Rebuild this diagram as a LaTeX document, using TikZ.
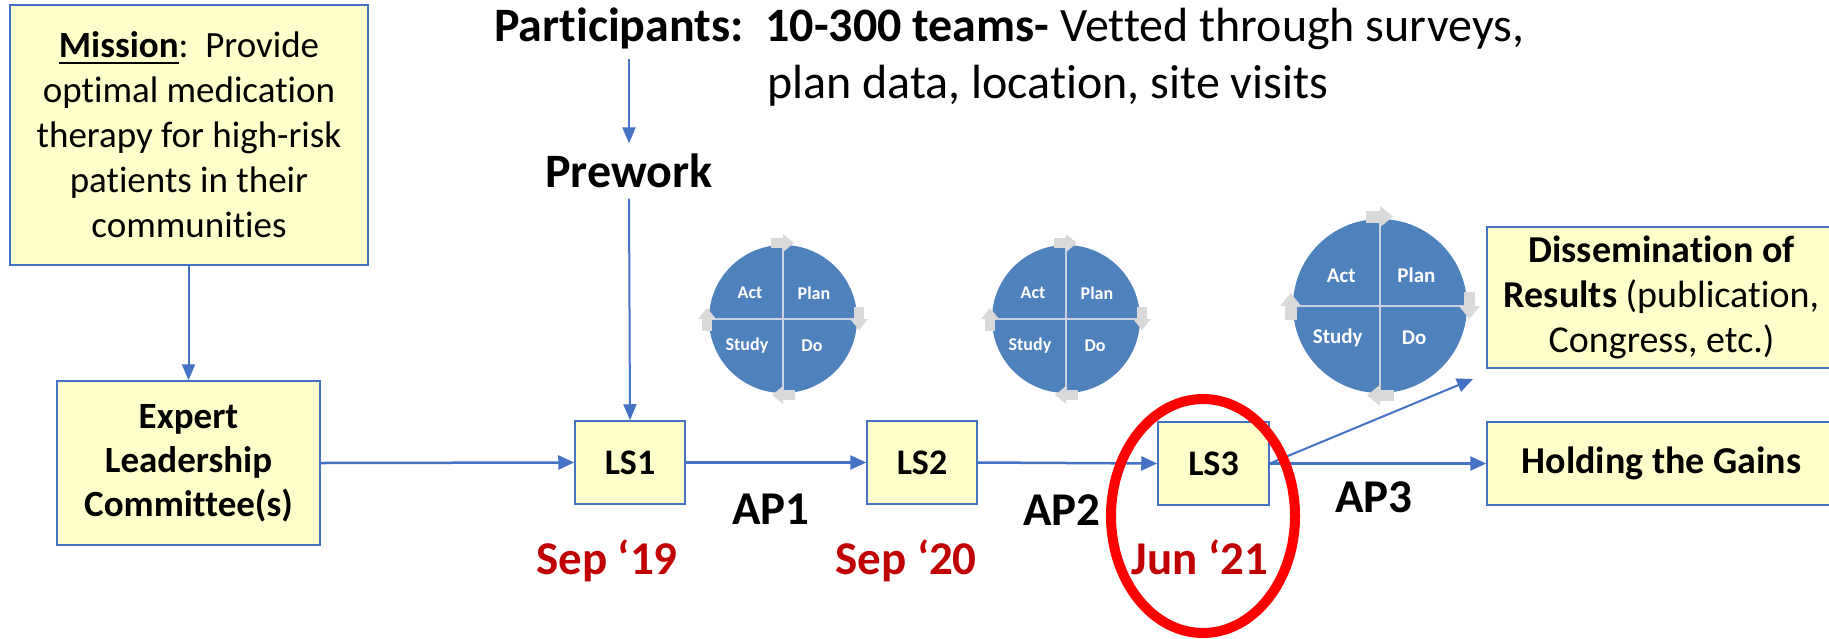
\documentclass[tikz,border=0pt]{standalone}
\usepackage{fontspec}
\setmainfont{Carlito}[Ligatures=NoCommon]
\usetikzlibrary{arrows.meta}

\definecolor{boxfill}{HTML}{FFFFCC}
\definecolor{boxline}{HTML}{4472C4}
\definecolor{linkblue}{HTML}{4472C4}
\definecolor{pdcablue}{HTML}{4F81BD}
\definecolor{pdcagrey}{HTML}{D9D9D9}
\definecolor{pdcarule}{HTML}{C9D1DE}
\definecolor{datered}{HTML}{C00000}
\definecolor{ringred}{HTML}{FF0000}

% underline with a rule that suits the large type
\newsavebox{\ulbox}
\newcommand{\thickul}[1]{\sbox{\ulbox}{#1}\rlap{\rule[-6pt]{\wd\ulbox}{2.2pt}}\usebox{\ulbox}}

% one PDCA cycle: #1 prefix, #2 x, #3 y, #4 scale, #5 label size
\newcommand{\pdcacycle}[5]{%
  \begin{scope}[shift={(#2,#3)}, scale=#4]
    \fill[pdcablue] (0,0) circle[radius=74];
    \draw[pdcarule, line width=2.5pt] (0,-74) -- (0,74);
    \draw[pdcarule, line width=2.5pt] (-74,0) -- (74,0);
    \foreach \ang/\px/\py in {0/0/-76, -90/76/0, 180/0/76, 90/-76/0}{
      \begin{scope}[shift={(\px,\py)}, rotate=\ang]
        \fill[pdcagrey] (-12,-5) rectangle (0,5);
        \fill[pdcagrey] (0,-9) -- (11,0) -- (0,9) -- cycle;
      \end{scope}
    }
    \node[pdcatext, font=\fontsize{#5}{#5}\selectfont\bfseries] (#1act)   at (-33,-26) {Act};
    \node[pdcatext, font=\fontsize{#5}{#5}\selectfont\bfseries] (#1plan)  at (31,-26)  {Plan};
    \node[pdcatext, font=\fontsize{#5}{#5}\selectfont\bfseries] (#1study) at (-36,27)  {Study};
    \node[pdcatext, font=\fontsize{#5}{#5}\selectfont\bfseries] (#1do)    at (29,27)   {Do};
  \end{scope}
}

\begin{document}
\begin{tikzpicture}[x=1pt, y=-1pt,
  box/.style={draw=boxline, fill=boxfill, line width=1.5pt, inner sep=0pt,
    align=center, text=black},
  conn/.style={draw=linkblue, line width=2.5pt,
    -{Triangle[length=16pt,width=14pt]}},
  thinconn/.style={draw=linkblue, line width=2pt,
    -{Triangle[length=16pt,width=13pt]}},
  pdcatext/.style={text=white, inner sep=0pt},
  biglabel/.style={font=\fontsize{47}{56}\selectfont\bfseries, inner sep=0pt,
    anchor=base},
  datelabel/.style={biglabel, text=datered},
]
\useasboundingbox (0,0) rectangle (1829,638);

% header text
\node[anchor=base west, inner sep=0pt, font=\fontsize{48}{57}\selectfont] (part1)
  at (494,41) {\textbf{Participants:~~10-300 teams-} Vetted through surveys,};
\node[anchor=base west, inner sep=0pt, font=\fontsize{48}{57}\selectfont] (part2)
  at (767,98) {plan data, location, site visits};
\node[inner sep=0pt, minimum height=55pt, font=\fontsize{48}{57}\selectfont\bfseries]
  (prework) at (629,171) {Prework};

% boxes
\node[box, minimum width=358pt, minimum height=260pt,
  font=\fontsize{37}{45}\selectfont] (mission) at (189,135)
  {\thickul{\textbf{Mission}}:~~Provide\\optimal medication\\therapy for high-risk\\patients in their\\communities};
\node[box, minimum width=263pt, minimum height=164pt,
  font=\fontsize{37}{44}\selectfont\bfseries] (expert) at (188.5,463)
  {Expert\\Leadership\\Committee(s)};
\node[box, minimum width=110pt, minimum height=83pt,
  font=\fontsize{36}{44}\selectfont\bfseries] (ls1) at (630,462.5) {LS1};
\node[box, minimum width=110pt, minimum height=83pt,
  font=\fontsize{36}{44}\selectfont\bfseries] (ls2) at (922,462.5) {LS2};
\node[box, minimum width=111pt, minimum height=83pt,
  font=\fontsize{36}{44}\selectfont\bfseries] (ls3) at (1213.5,463.5) {LS3};
\node[box, minimum width=349pt, minimum height=141pt,
  font=\fontsize{38}{45}\selectfont] (dissem) at (1661.5,297.5)
  {\textbf{Dissemination of}\\\textbf{Results} (publication,\\Congress, etc.)};
\node[box, minimum width=349pt, minimum height=83pt,
  font=\fontsize{38}{45}\selectfont\bfseries] (holding) at (1661.5,463.5)
  {Holding the Gains};

% PDCA cycles
\pdcacycle{ca}{783}{319}{1}{18}
\pdcacycle{cb}{1066}{319}{1}{18}
\pdcacycle{cc}{1380}{306}{1.176}{21}

% connectors
\draw[thinconn, shorten <=10pt] (part1.south -| prework.north) -- (prework.north);
\draw[thinconn] (prework.south) -- (ls1.north);
\draw[thinconn] (mission.south -| expert.north) -- (expert.north);
\draw[conn] (expert.east) -- (ls1.west);
\draw[conn] (ls1.east) -- (ls2.west);
\draw[conn] (ls2.east) -- (ls3.west);
\draw[conn] (ls3.east) -- (holding.west);
\coordinate (dissemfoot) at (1473,379);
\draw[conn, line width=2pt] (ls3.east) -- (dissemfoot);

% phase and date labels
\node[biglabel] (ap1) at (771,524) {AP1};
\node[biglabel] (ap2) at (1062,525) {AP2};
\node[biglabel] (ap3) at (1374,512) {AP3};
\node[datelabel] (d1) at (607,574) {Sep ‘19};
\node[datelabel] (d2) at (906,574) {Sep ‘20};
\node[datelabel] (d3) at (1200,574) {Jun ‘21};

% highlight ring round the third session
\draw[ringred, line width=10pt] (1203,516) ellipse[x radius=92, y radius=117];
\end{tikzpicture}
\end{document}
